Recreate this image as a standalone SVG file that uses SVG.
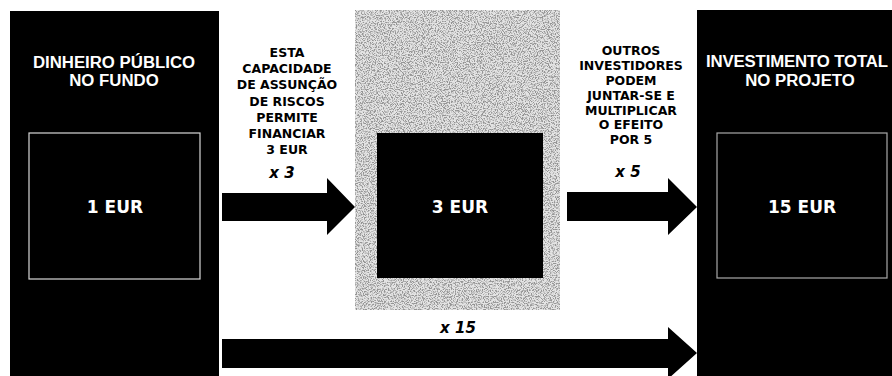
<svg xmlns="http://www.w3.org/2000/svg" width="892" height="376" viewBox="0 0 892 376">
<style>
.title{font-family:"Liberation Sans",Arial,sans-serif;font-weight:bold;font-size:16.8px;fill:#fff;}
.amt{font-family:"DejaVu Sans",Verdana,sans-serif;font-weight:bold;font-size:17px;fill:#fff;text-anchor:middle;}
.note{font-family:"DejaVu Sans",Verdana,sans-serif;font-weight:bold;font-size:12.5px;fill:#000;text-anchor:middle;}
.mult{font-family:"DejaVu Sans",Verdana,sans-serif;font-weight:bold;font-style:italic;font-size:15px;fill:#000;text-anchor:middle;}
.arrow{fill:#000;}
</style>
<defs>
<filter id="grain" x="0" y="0" width="100%" height="100%">
<feTurbulence type="fractalNoise" baseFrequency="0.85" numOctaves="2" seed="7" result="n"/>
<feColorMatrix in="n" type="matrix" values="0 0 0 0 0.3  0 0 0 0 0.3  0 0 0 0 0.3  5 0 0 0 -2.25" result="dots"/>
<feComposite in="dots" in2="SourceGraphic" operator="in"/>
</filter>
</defs>
<rect width="892" height="376" fill="#fff"/>

<g id="node-fund">
<rect x="10" y="11" width="209" height="370" fill="#000"/>
<text class="title" x="114" y="68" text-anchor="middle">DINHEIRO PÚBLICO</text>
<text class="title" x="114" y="86" text-anchor="middle">NO FUNDO</text>
<rect x="29" y="133" width="171" height="146" fill="#000" stroke="#d8d8d8" stroke-width="1.2"/>
<text class="amt" x="115" y="213">1 EUR</text>
</g>

<g id="node-financing">
<rect x="355" y="10" width="205" height="300" fill="#e4e4e4"/>
<rect x="355" y="10" width="205" height="300" fill="#fff" filter="url(#grain)"/>
<rect x="377" y="133" width="166" height="145" fill="#000"/>
<text class="amt" x="460" y="213">3 EUR</text>
</g>

<g id="node-total">
<rect x="697" y="10" width="200" height="370" fill="#000"/>
<text class="title" x="706" y="67" textLength="182" lengthAdjust="spacing">INVESTIMENTO  TOTAL</text>
<text class="title" x="800" y="86" text-anchor="middle">NO PROJETO</text>
<rect x="717" y="133" width="170" height="145" fill="#000" stroke="#a8a8a8" stroke-width="1.2"/>
<text class="amt" x="802" y="213">15 EUR</text>
</g>

<g id="connectors">
<polygon class="arrow" points="222,193 327,193 327,178 355,207 327,235 327,221 222,221"/>
<polygon class="arrow" points="567,192 668,192 668,178 697,207 668,235 668,221 567,221"/>
<polygon class="arrow" points="222,339 668,339 668,327 697,353 668,379 668,368 222,368"/>
<g id="label-x3">
<text class="note" x="287" y="57">ESTA</text>
<text class="note" x="287" y="73">CAPACIDADE</text>
<text class="note" x="287" y="89">DE ASSUNÇÃO</text>
<text class="note" x="287" y="105.5">DE RISCOS</text>
<text class="note" x="287" y="122">PERMITE</text>
<text class="note" x="287" y="138">FINANCIAR</text>
<text class="note" x="287" y="154">3 EUR</text>
<text class="mult" x="282" y="178">x 3</text>
</g>
<g id="label-x5">
<text class="note" x="631" y="55">OUTROS</text>
<text class="note" x="631" y="69.5">INVESTIDORES</text>
<text class="note" x="631" y="84.5">PODEM</text>
<text class="note" x="631" y="100">JUNTAR-SE E</text>
<text class="note" x="631" y="114.5">MULTIPLICAR</text>
<text class="note" x="631" y="129">O EFEITO</text>
<text class="note" x="631" y="143.5">POR 5</text>
<text class="mult" x="628" y="177">x 5</text>
</g>
<text class="mult" x="458" y="333">x 15</text>
</g>
</svg>
